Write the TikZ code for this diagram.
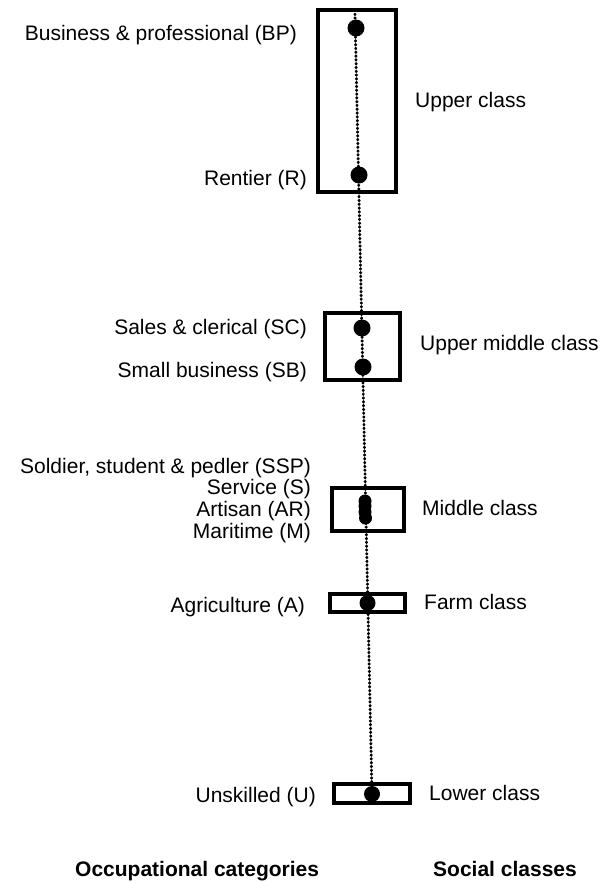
\documentclass[tikz,border=0pt]{standalone}
\usepackage{fontspec}
\setmainfont{Liberation Sans}
\begin{document}
\begin{tikzpicture}[x=1pt,y=-1pt,
  box/.style={draw, line width=3.2pt},
  pt/.style={circle, fill=black, inner sep=0pt, minimum size=#1},
  occ/.style={anchor=base east, inner sep=0pt, font=\fontsize{21}{25}\selectfont},
  cls/.style={anchor=base west, inner sep=0pt, font=\fontsize{21}{25}\selectfont},
  head/.style={anchor=base west, inner sep=0pt, font=\fontsize{21}{25}\selectfont\bfseries},
  dotline/.style={line width=2.9pt, line cap=round, dash pattern=on 0.6pt off 3.2pt}
]
\useasboundingbox (0,0) rectangle (606,883);

% boxes
\draw[box] (318,10) rectangle (396,192);
\draw[box] (325,313) rectangle (400,380);
\draw[box] (332,488) rectangle (404,531);
\draw[box] (330,594) rectangle (405,612);
\draw[box] (334,784) rectangle (410,803);

% points
\coordinate (top) at (355,14);
\node[pt=17] (BP) at (356,28) {};
\node[pt=17] (R) at (359,175) {};
\node[pt=17] (SC) at (362,328) {};
\node[pt=17] (SB) at (363,367) {};
\node[pt=13] (SSP) at (365,501) {};
\node[pt=13] (S) at (365,506) {};
\node[pt=13] (AR) at (365,512) {};
\node[pt=13] (M) at (365.5,518) {};
\node[pt=16] (A) at (367.5,603) {};
\node[pt=16] (U) at (372,794) {};
\draw[dotline] (top) -- (U.center);

% occupational labels
\node[occ] (tBP) at (297,41) {Business \& professional (BP)};
\node[occ] (tR) at (307,185) {Rentier (R)};
\node[occ] (tSC) at (307,334) {Sales \& clerical (SC)};
\node[occ] (tSB) at (307,377) {Small business (SB)};
\node[occ] (tSSP) at (311,473) {Soldier, student \& pedler (SSP)};
\node[occ] (tS) at (311,494) {Service (S)};
\node[occ] (tAR) at (311,516) {Artisan (AR)};
\node[occ] (tM) at (311,538) {Maritime (M)};
\node[occ] (tA) at (305,612) {Agriculture (A)};
\node[occ] (tU) at (316,802) {Unskilled (U)};

% class labels
\node[cls] (cU) at (415,107) {Upper class};
\node[cls] (cUM) at (420,350) {Upper middle class};
\node[cls] (cM) at (422,515) {Middle class};
\node[cls] (cF) at (424,609) {Farm class};
\node[cls] (cL) at (429,800) {Lower class};

% headings
\node[head] (h1) at (75,876) {Occupational categories};
\node[head] (h2) at (433,876) {Social classes};
\end{tikzpicture}
\end{document}
